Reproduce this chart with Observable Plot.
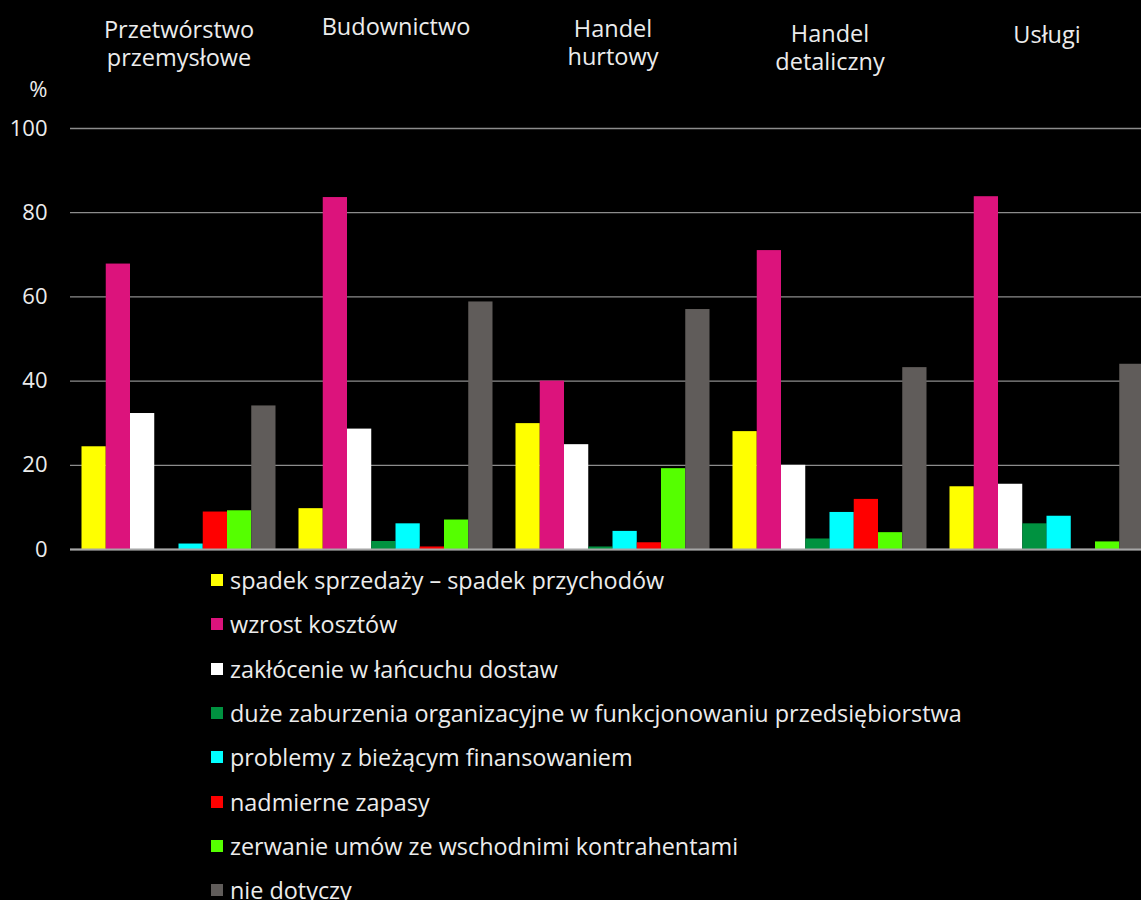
<!DOCTYPE html>
<html>
<head>
<meta charset="utf-8">
<script src="https://cdn.jsdelivr.net/npm/d3@7"></script>
<script src="https://cdn.jsdelivr.net/npm/@observablehq/plot@0.6"></script>
<style>
  html, body { margin: 0; padding: 0; background: #000; overflow: hidden; width: 1141px; height: 900px; }
  #wrap { position: relative; width: 1141px; height: 900px; overflow: hidden; }
  #chart { position: absolute; left: 0; top: 0; width: 1155px; }
  #chart svg { max-width: none !important; }
  #legend { position: absolute; left: 211px; top: 558px; font-family: "Open Sans", "Noto Sans", sans-serif; font-size: 23.4px; color: #ececec; }
  .row { display: flex; align-items: center; height: 44.3px; white-space: nowrap; }
  .sw { width: 12px; height: 12px; margin-right: 7px; flex: none; }
</style>
</head>
<body>
<div id="wrap">
  <div id="chart"></div>
  <div id="legend"></div>
</div>
<script>
const categories = ["Przetwórstwo\nprzemysłowe", "Budownictwo", "Handel\nhurtowy", "Handel\ndetaliczny", "Usługi"];
const seriesNames = [
  "spadek sprzedaży – spadek przychodów",
  "wzrost kosztów",
  "zakłócenie w łańcuchu dostaw",
  "duże zaburzenia organizacyjne w funkcjonowaniu przedsiębiorstwa",
  "problemy z bieżącym finansowaniem",
  "nadmierne zapasy",
  "zerwanie umów ze wschodnimi kontrahentami",
  "nie dotyczy"
];
const seriesColors = ["#ffff00", "#dc137c", "#ffffff", "#009240", "#00ffff", "#ff0000", "#55ff00", "#605c5a"];

const spadekSprzedazy = [24.4, 9.7, 29.9, 28.0, 14.9];
const wzrostKosztow = [67.8, 83.6, 40.0, 71.0, 83.8];
const zaklocenieDostaw = [32.3, 28.6, 24.9, 20.0, 15.5];
const zaburzeniaOrganizacyjne = [0, 1.9, 0.6, 2.5, 6.1];
const problemyFinansowanie = [1.3, 6.1, 4.3, 8.8, 7.9];
const nadmierneZapasy = [8.9, 0.6, 1.6, 11.9, 0];
const zerwanieUmow = [9.2, 7.0, 19.2, 4.0, 1.8];
const nieDotyczy = [34.1, 58.8, 57.0, 43.2, 44.0];

const yTicks = [0, 20, 40, 60, 80, 100];

const seriesValues = [spadekSprzedazy, wzrostKosztow, zaklocenieDostaw, zaburzeniaOrganizacyjne,
  problemyFinansowanie, nadmierneZapasy, zerwanieUmow, nieDotyczy];

const table = [];
seriesNames.forEach((s, si) => {
  categories.forEach((c, ci) => {
    table.push({category: c, series: s, value: seriesValues[si][ci]});
  });
});

const FONT = '"Open Sans", "Noto Sans", sans-serif';
const TEXT = "#ececec";
const labelFont = 23.5;
const frameTop = 128;
const firstBaselines = [35, 32, 34, 39, 40];

const topLabels = categories.map((c, i) => Plot.text([c], {
  fx: d => d,
  text: d => d,
  frameAnchor: "top",
  lineAnchor: "top",
  lineHeight: 1.17,
  fontSize: labelFont,
  fill: TEXT,
  dy: firstBaselines[i] - 0.71 * labelFont - frameTop
}));

const chart = Plot.plot({
  width: 1155,
  height: 560,
  marginLeft: 70,
  marginRight: 0,
  marginTop: frameTop,
  marginBottom: 11,
  style: {background: "#000", fontFamily: FONT, color: TEXT, overflow: "visible", maxWidth: "none"},
  fx: {domain: categories, padding: 0, round: false, axis: null},
  x: {domain: seriesNames, paddingInner: 0, paddingOuter: 0.474, round: false, axis: null},
  y: {domain: [0, 100], axis: null},
  color: {domain: seriesNames, range: seriesColors},
  marks: [
    Plot.gridY(yTicks, {stroke: "#8c8c8c", strokeOpacity: 1, strokeWidth: 1.3}),
    Plot.axisY(yTicks, {tickSize: 0, tickPadding: 23, fontSize: 22, fill: TEXT, label: null, tickFormat: d => String(d)}),
    Plot.barY(table, {fx: "category", x: "series", y: "value", fill: "series"}),
    Plot.ruleY([0], {stroke: "#a6a6a6", strokeWidth: 2}),
    Plot.text(["%"], {fx: () => categories[0], text: d => d, frameAnchor: "top-left", textAnchor: "end", dx: -23, dy: -47, fontSize: 22, fill: TEXT}),
    ...topLabels
  ]
});
document.getElementById("chart").appendChild(chart);

const legend = document.getElementById("legend");
seriesNames.forEach((s, i) => {
  const row = document.createElement("div");
  row.className = "row";
  const sw = document.createElement("span");
  sw.className = "sw";
  sw.style.background = seriesColors[i];
  const t = document.createElement("span");
  t.textContent = s;
  row.appendChild(sw);
  row.appendChild(t);
  legend.appendChild(row);
});
</script>
</body>
</html>
